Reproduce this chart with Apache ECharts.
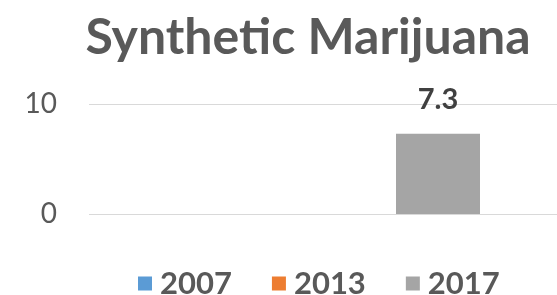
<!DOCTYPE html>
<html><head><meta charset="utf-8">
<script src="https://cdn.jsdelivr.net/npm/echarts@6/dist/echarts.min.js"></script>
<style>html,body{margin:0;padding:0;background:#fff}#c{width:557px;height:295px}</style>
</head><body><div id="c"></div>
<script>
const categories = ['Synthetic Marijuana'];
const seriesNames = ['2007', '2013', '2017'];
const values2007 = [null];
const values2013 = [null];
const values2017 = [7.3];
const colors = ['#5B9BD5', '#ED7D31', '#A5A5A5'];
const yTicks = [0, 10];

const chart = echarts.init(document.getElementById('c'));
const dataArr = [values2007, values2013, values2017];
chart.setOption({
  animation: false,
  title: {
    text: 'Synthetic Marijuana', left: 303, top: 8, textAlign: 'center',
    textStyle: {fontFamily: 'Lato', fontWeight: 'bold', fontSize: 50, color: '#595959'}
  },
  legend: {
    top: 268, left: 138, padding: 0, itemWidth: 14, itemHeight: 14, itemGap: 40,
    icon: 'rect',
    textStyle: {fontFamily: 'Lato', fontWeight: 'bold', fontSize: 31, color: '#595959', padding: [0, 0, 0, 3]},
    data: seriesNames
  },
  grid: {left: 89, width: 530, top: 104, height: 110, outerBoundsMode: 'none', containLabel: false},
  xAxis: {
    type: 'category', data: categories,
    axisLine: {show: false}, axisTick: {show: false}, axisLabel: {show: false}
  },
  yAxis: {
    type: 'value', min: yTicks[0], max: yTicks[yTicks.length - 1], interval: 10,
    axisLine: {show: false}, axisTick: {show: false},
    axisLabel: {fontFamily: 'Lato', fontSize: 28, color: '#595959', margin: 32},
    splitLine: {lineStyle: {color: '#D9D9D9', width: 1}}
  },
  series: seriesNames.map((n, i) => ({
    name: n, type: 'bar', data: dataArr[i], barWidth: 84, barGap: '0%',
    itemStyle: {color: colors[i]},
    label: {show: true, position: 'top', distance: 20, fontFamily: 'Lato', fontWeight: 'bold', fontSize: 29, color: '#404040'}
  }))
});
</script></body></html>
